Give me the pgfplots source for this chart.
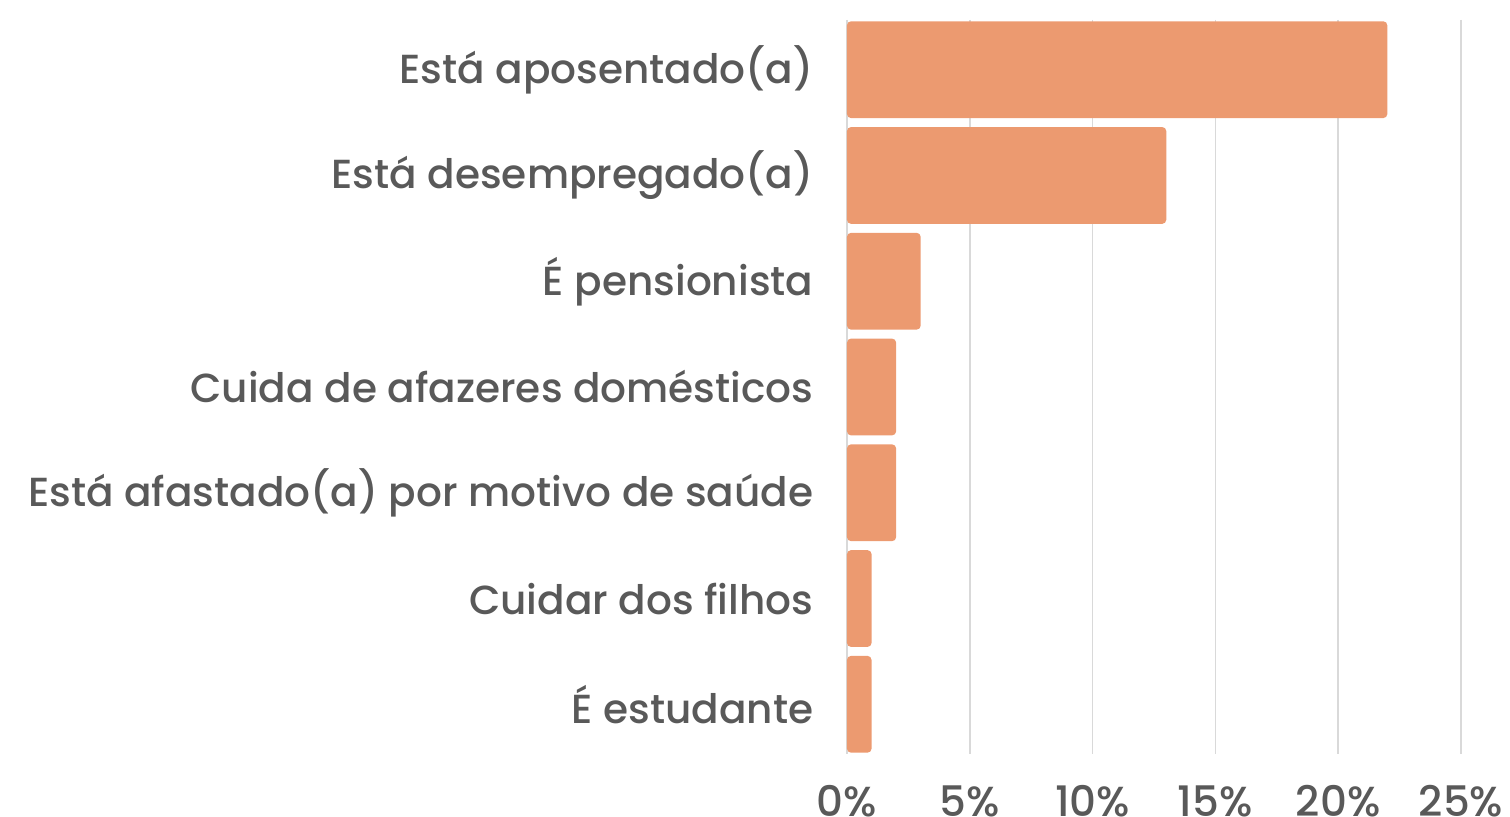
\documentclass[border=0pt]{standalone}
\usepackage{pgfplots}
\pgfplotsset{compat=1.18}
\usepackage{fontspec}
\setmainfont{Poppins}[UprightFont={* Medium}]
\definecolor{barc}{HTML}{EC9A70}
\definecolor{txt}{HTML}{595959}
\definecolor{gridc}{HTML}{D9D9D9}
\begin{document}
\begin{tikzpicture}
\useasboundingbox (0,0) rectangle (755pt,408.5pt);
\begin{axis}[
  at={(423.5pt,31.5pt)}, anchor=south west,
  scale only axis, width=307pt, height=367pt,
  xbar, bar width=0.915,
  xmin=0, xmax=25, ymin=-0.47, ymax=6.47,
  y dir=reverse,
  xtick={0,5,10,15,20,25},
  xticklabel={\pgfmathprintnumber{\tick}\%},
  ytick={0,1,2,3,4,5,6},
  yticklabels={Está aposentado(a),Está desempregado(a),É pensionista,Cuida de afazeres domésticos,Está afastado(a) por motivo de saúde,Cuidar dos filhos,É estudante},
  /pgf/number format/assume math mode=true,
  yticklabel style={font=\fontsize{20.3}{24}\selectfont, text=txt, xshift=-9pt},
  xticklabel style={font=\fontsize{21}{24}\selectfont, text=txt, inner sep=0pt, yshift=-15.5pt},
  xmajorgrids, grid style={gridc, line width=0.75pt},
  axis line style={draw=none},
  major tick style={draw=none},
]
\addplot[fill=barc, draw=none, rounded corners=2pt] coordinates {
 (22,0) (13,1) (3,2) (2,3) (2,4) (1,5) (1,6)};
\end{axis}
\end{tikzpicture}
\end{document}
